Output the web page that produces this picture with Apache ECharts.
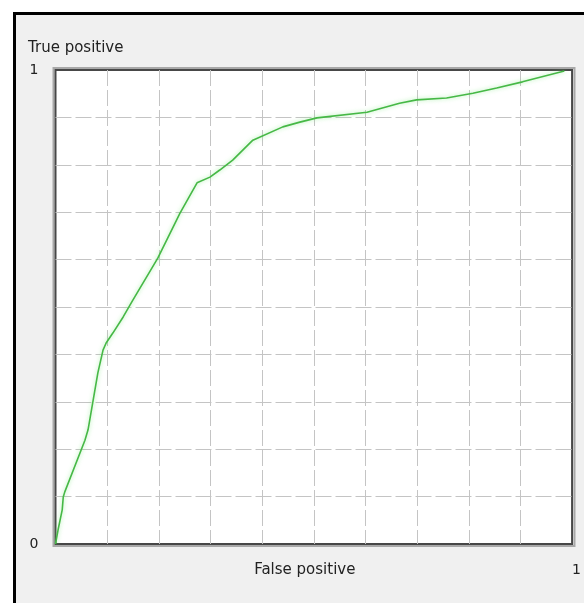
<!DOCTYPE html>
<html lang="en">
<head>
<meta charset="UTF-8">
<title>ROC curve</title>
<script src="https://cdn.jsdelivr.net/npm/echarts@6/dist/echarts.min.js"></script>
<style>
    html, body { margin: 0; padding: 0; background: #fff; }
    #main { width: 584px; height: 603px; }
</style>
</head>
<body>
<div id="main"></div>
<script>
// ROC points
var fpr = [0, 0.005, 0.013, 0.015, 0.018, 0.057, 0.063, 0.073, 0.082, 0.092, 0.098, 0.111, 0.131, 0.150,
           0.198, 0.241, 0.274, 0.299, 0.318, 0.343, 0.382, 0.440, 0.473, 0.506, 0.603, 0.666, 0.699,
           0.757, 0.808, 0.854, 0.904, 0.985];
var tpr = [0, 0.030, 0.072, 0.099, 0.110, 0.219, 0.241, 0.304, 0.361, 0.409, 0.424, 0.445, 0.479, 0.515,
           0.603, 0.698, 0.762, 0.774, 0.789, 0.810, 0.852, 0.880, 0.890, 0.899, 0.911, 0.930, 0.937,
           0.941, 0.951, 0.962, 0.975, 0.998];
var yLabels = ['0', '1'];
var xLabels = ['1'];
var xName = 'False positive';
var yName = 'True positive';

var points = [];
for (var i = 0; i < fpr.length; i++) {
    points.push([fpr[i], tpr[i]]);
}

function isEnd(v, list) {
    for (var k = 0; k < list.length; k++) {
        if (Math.abs(v - Number(list[k])) < 1e-6) return true;
    }
    return false;
}

var font = 'DejaVu Sans';
var chart = echarts.init(document.getElementById('main'));

chart.setOption({
    animation: false,
    backgroundColor: '#fff',
    textStyle: { fontFamily: font },
    title: {
        text: yName,
        left: 28,
        top: 41,
        padding: 0,
        textStyle: { fontFamily: font, fontSize: 15, fontWeight: 'normal', color: '#222' }
    },
    graphic: [
        {
            type: 'rect', z: -10, silent: true,
            shape: { x: 14.5, y: 13.5, width: 600, height: 620 },
            style: { fill: '#f0f0f0', stroke: '#000', lineWidth: 3 }
        },
        {
            type: 'rect', z: -5, silent: true,
            shape: { x: 53.5, y: 68, width: 521, height: 478 },
            style: { fill: '#fff', stroke: '#a8a8a8', lineWidth: 2 }
        }
    ],
    grid: {
        left: 55.5,
        right: 11.5,
        top: 70,
        bottom: 59,
        show: true,
        backgroundColor: '#fff',
        borderColor: '#474747',
        borderWidth: 2
    },
    xAxis: {
        type: 'value',
        min: 0,
        max: 1,
        interval: 0.1,
        name: xName,
        nameLocation: 'middle',
        nameGap: 19,
        nameMoveOverlap: false,
        nameTextStyle: { fontFamily: font, fontSize: 15, color: '#222', verticalAlign: 'top', padding: [0, 18, 0, 0] },
        axisLine: { show: false },
        axisTick: { show: false },
        axisLabel: {
            margin: 19,
            fontSize: 14,
            color: '#222',
            align: 'left',
            verticalAlign: 'top',
            formatter: function (v) { return isEnd(v, xLabels) ? xLabels[0] : ''; }
        },
        splitLine: {
            show: true,
            showMinLine: false,
            showMaxLine: false,
            lineStyle: { color: '#c4c4c4', width: 1, type: [16, 4] }
        }
    },
    yAxis: {
        type: 'value',
        min: 0,
        max: 1,
        interval: 0.1,
        axisLine: { show: false },
        axisTick: { show: false },
        axisLabel: {
            margin: 17,
            fontSize: 14,
            color: '#222',
            formatter: function (v) {
                if (Math.abs(v) < 1e-6) return yLabels[0];
                if (Math.abs(v - 1) < 1e-6) return yLabels[1];
                return '';
            }
        },
        splitLine: {
            show: true,
            showMinLine: false,
            showMaxLine: false,
            lineStyle: { color: '#c4c4c4', width: 1, type: [16, 4] }
        }
    },
    series: [{
        type: 'line',
        data: points,
        showSymbol: false,
        lineStyle: {
            color: '#46b846',
            width: 1.6,
            shadowColor: 'rgba(110, 230, 110, 0.6)',
            shadowBlur: 4
        }
    }]
});
</script>
</body>
</html>
